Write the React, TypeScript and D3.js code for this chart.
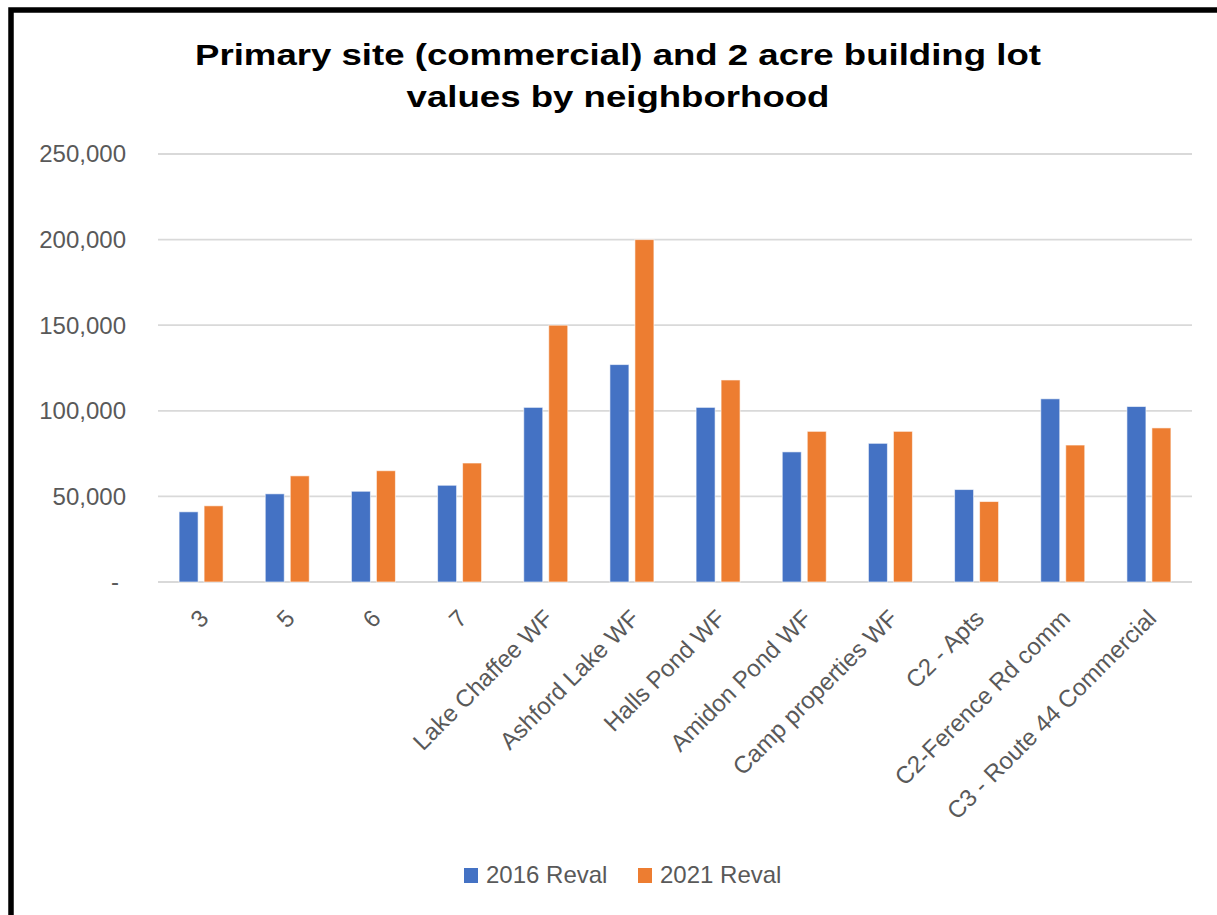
import React from "react";
import * as d3 from "d3";

const categories = [
  "3", "5", "6", "7", "Lake Chaffee WF", "Ashford Lake WF", "Halls Pond WF",
  "Amidon Pond WF", "Camp properties WF", "C2 - Apts", "C2-Ference Rd comm",
  "C3 - Route 44 Commercial",
];
const reval2016 = [41000, 51500, 53000, 56500, 102000, 127000, 102000, 76000, 81000, 54000, 107000, 102500];
const reval2021 = [44500, 62000, 65000, 69500, 150000, 200000, 118000, 88000, 88000, 47000, 80000, 90000];
const seriesNames = ["2016 Reval", "2021 Reval"];
const seriesColors = ["#4472C4", "#ED7D31"];
const yTicks = [0, 50000, 100000, 150000, 200000, 250000];
const titleLines = ["Primary site (commercial) and 2 acre building lot", "values by neighborhood"];

const W = 1217;
const H = 915;
const FONT = "'Liberation Sans', Arial, sans-serif";

export default function App() {
  const x0 = d3.scaleBand<string>().domain(categories).range([158, 1192]).paddingInner(0).paddingOuter(0);
  const y = d3.scaleLinear().domain([0, 250000]).range([582, 154]);
  const barW = 19;
  const gap = 6;
  const fmt = (v: number) => (v === 0 ? "-" : d3.format(",")(v));
  const series = [reval2016, reval2021];

  return (
    <svg width={W} height={H} style={{ position: "absolute", left: 0, top: 0, background: "#fff" }}>
      <rect x={0} y={0} width={W} height={H} fill="#fff" />
      <rect x={11} y={10} width={W + 20} height={H + 20} fill="none" stroke="#000" strokeWidth={5.5} />
      {titleLines.map((t, i) => (
        <text key={i} transform={`translate(618,${65 + i * 42}) scale(1.22,1)`} textAnchor="middle" fontFamily={FONT} fontWeight="bold" fontSize={30} fill="#000">
          {t}
        </text>
      ))}
      {yTicks.map((t) => (
        <g key={t}>
          <line x1={158} x2={1192} y1={y(t)} y2={y(t)} stroke="#d9d9d9" strokeWidth={1.8} />
          <text x={t === 0 ? 119 : 126} y={y(t)} dy="0.35em" textAnchor="end" fontFamily={FONT} fontSize={24} fill="#595959">
            {fmt(t)}
          </text>
        </g>
      ))}
      {categories.map((c, i) => {
        const cx = (x0(c) as number) + x0.bandwidth() / 2;
        return (
          <g key={c}>
            {series.map((s, k) => {
              const bx = k === 0 ? cx - gap / 2 - barW : cx + gap / 2;
              return (
                <rect key={k} x={bx} y={y(s[i])} width={barW} height={y(0) - y(s[i])}
                  fill={seriesColors[k]} stroke="#fff" strokeOpacity={0.6} strokeWidth={1} />
              );
            })}
            <text transform={`translate(${cx - 3},${608}) rotate(-45)`} textAnchor="end" dy="0.7em"
              fontFamily={FONT} fontSize={24} fill="#595959">
              {c}
            </text>
          </g>
        );
      })}
      {seriesNames.map((n, k) => {
        const lx = k === 0 ? 464 : 638;
        return (
          <g key={n}>
            <rect x={lx} y={868} width={14} height={15} fill={seriesColors[k]} />
            <text x={lx + 22} y={883} fontFamily={FONT} fontSize={24} fill="#595959">{n}</text>
          </g>
        );
      })}
    </svg>
  );
}
